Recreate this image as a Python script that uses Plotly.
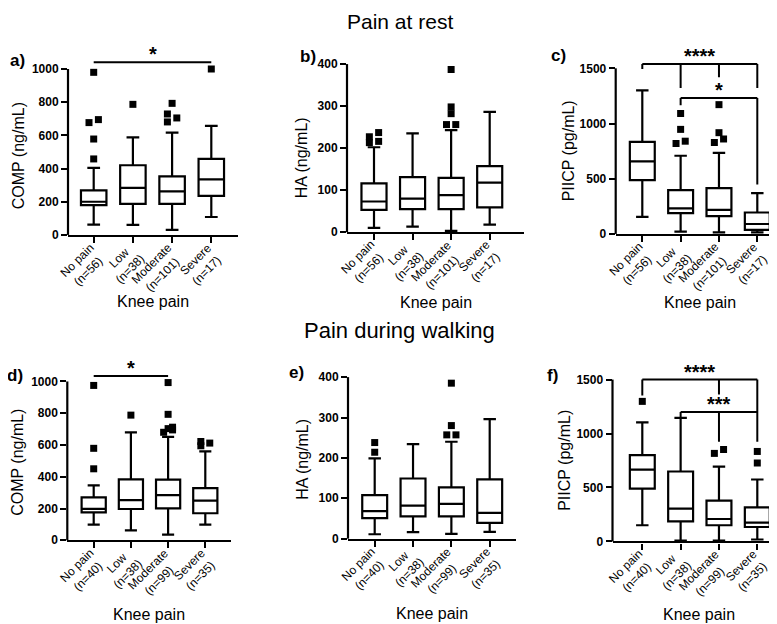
import plotly.graph_objects as go

W, H = 777, 624

CATS_REST = ["No pain<br>(n=56)", "Low<br>(n=38)", "Moderate<br>(n=101)", "Severe<br>(n=17)"]
CATS_WALK = ["No pain<br>(n=40)", "Low<br>(n=38)", "Moderate<br>(n=99)", "Severe<br>(n=35)"]

# a) COMP, pain at rest
COMP_REST_LO = [62, 60, 30, 108]
COMP_REST_Q1 = [180, 187, 187, 235]
COMP_REST_MED = [200, 283, 263, 335]
COMP_REST_Q3 = [269, 420, 353, 458]
COMP_REST_HI = [404, 588, 616, 657]
COMP_REST_OUT = [[980, 677, 695, 578, 458], [787], [793, 729, 681, 705], [1000]]

# b) HA, pain at rest
HA_REST_LO = [10, 13, 3, 18]
HA_REST_Q1 = [53, 55, 55, 59]
HA_REST_MED = [73, 80, 88, 118]
HA_REST_Q3 = [116, 131, 129, 157]
HA_REST_HI = [202, 235, 243, 286]
HA_REST_OUT = [[227, 213, 237, 216], [], [387, 298, 282, 256, 256], []]

# c) PIICP, pain at rest
PIICP_REST_LO = [155, 21, 15, 15]
PIICP_REST_Q1 = [487, 188, 161, 36]
PIICP_REST_MED = [657, 232, 218, 90]
PIICP_REST_Q3 = [834, 397, 415, 194]
PIICP_REST_HI = [1300, 708, 735, 370]
PIICP_REST_OUT = [[], [1091, 947, 819, 840], [1171, 917, 828, 860], []]

# d) COMP, pain during walking
COMP_WALK_LO = [98, 62, 35, 98]
COMP_WALK_Q1 = [176, 197, 201, 170]
COMP_WALK_MED = [198, 253, 284, 249]
COMP_WALK_Q3 = [270, 384, 382, 328]
COMP_WALK_HI = [346, 680, 651, 560]
COMP_WALK_OUT = [[975, 579, 450], [788], [993, 793, 680, 703, 712, 695], [622, 595, 612]]

# e) HA, pain during walking
HA_WALK_LO = [11, 16, 12, 17]
HA_WALK_Q1 = [51, 55, 55, 39]
HA_WALK_MED = [68, 82, 86, 64]
HA_WALK_Q3 = [108, 149, 127, 147]
HA_WALK_HI = [199, 234, 240, 296]
HA_WALK_OUT = [[238, 214], [], [385, 280, 257, 257], []]

# f) PIICP, pain during walking
PIICP_WALK_LO = [150, 9, 9, 18]
PIICP_WALK_Q1 = [489, 186, 150, 134]
PIICP_WALK_MED = [666, 305, 208, 175]
PIICP_WALK_Q3 = [800, 648, 379, 315]
PIICP_WALK_HI = [1103, 1146, 693, 574]
PIICP_WALK_OUT = [[1298], [], [816, 852], [834, 727]]

# significance brackets: (from, to), bar level, drops (group, end value), label
SIG_A = [((0, 3), 1040, [], "*")]
SIG_C = [((0, 3), 1539, [(0, 1494), (1, 1321), (2, 1420), (3, 1321)], "****"),
         ((1, 3), 1231, [(1, 1166), (3, 448)], "*")]
SIG_D = [((0, 2), 1034, [], "*")]
SIG_F = [((0, 3), 1500, [(0, 1353), (2, 1362), (3, 925)], "****"),
         ((1, 3), 1200, [(1, 1139), (2, 925)], "***")]

FONT = "Liberation Sans, Arial, sans-serif"

# side-by-side placement of outliers that would overlap (-1 left, +1 right)
DODGE_STEP = 0.12
panels = [
    dict(letter="a)", ytitle="COMP (ng/mL)", cats=CATS_REST,
         lo=COMP_REST_LO, q1=COMP_REST_Q1, med=COMP_REST_MED, q3=COMP_REST_Q3, hi=COMP_REST_HI,
         out=COMP_REST_OUT, dodge=[[0, -1, 1, 0, 0], [0], [0, -1, -1, 1], [0]], sig=SIG_A,
         left=60, right=230, cat0=85.7, cat3=203.3, y0=229.5, ytop=61.7, top=1000, step=200,
         domtop=38, letter_px=(9, 53), ytitle_px=(10, 150), xtitle_y=297),
    dict(letter="b)", ytitle="HA (ng/mL)", cats=CATS_REST,
         lo=HA_REST_LO, q1=HA_REST_Q1, med=HA_REST_MED, q3=HA_REST_Q3, hi=HA_REST_HI,
         out=HA_REST_OUT, dodge=[[-1, -1, 1, 1], [], [0, 0, 0, -1, 1], []], sig=[],
         left=339, right=516, cat0=366, cat3=481.7, y0=226.7, ytop=56.7, top=400, step=100,
         domtop=38, letter_px=(300, 49), ytitle_px=(293, 152), xtitle_y=298),
    dict(letter="c)", ytitle="PIICP (pg/mL)", cats=CATS_REST,
         lo=PIICP_REST_LO, q1=PIICP_REST_Q1, med=PIICP_REST_MED, q3=PIICP_REST_Q3, hi=PIICP_REST_HI,
         out=PIICP_REST_OUT, dodge=[[], [0, 0, -1, 1], [0, 0, -1, 1], []], sig=SIG_C,
         left=607.7, right=777, cat0=634.3, cat3=749.3, y0=228.5, ytop=61, top=1500, step=500,
         domtop=38, letter_px=(550, 48), ytitle_px=(560, 145), xtitle_y=298),
    dict(letter="d)", ytitle="COMP (ng/mL)", cats=CATS_WALK,
         lo=COMP_WALK_LO, q1=COMP_WALK_Q1, med=COMP_WALK_MED, q3=COMP_WALK_Q3, hi=COMP_WALK_HI,
         out=COMP_WALK_OUT, dodge=[[0, 0, 0], [0], [0, 0, -1, 0, 1, 1], [-1, -1, 1]], sig=SIG_D,
         left=59.3, right=223, cat0=85.7, cat3=197.3, y0=538.3, ytop=377.7, top=1000, step=200,
         domtop=352, letter_px=(7, 372), ytitle_px=(10, 460), xtitle_y=613),
    dict(letter="e)", ytitle="HA (ng/mL)", cats=CATS_WALK,
         lo=HA_WALK_LO, q1=HA_WALK_Q1, med=HA_WALK_MED, q3=HA_WALK_Q3, hi=HA_WALK_HI,
         out=HA_WALK_OUT, dodge=[[0, 0], [], [0, 0, -1, 1], []], sig=[],
         left=340, right=508, cat0=366.7, cat3=481.7, y0=536.7, ytop=373.3, top=400, step=100,
         domtop=352, letter_px=(288, 369), ytitle_px=(295, 457), xtitle_y=612),
    dict(letter="f)", ytitle="PIICP (pg/mL)", cats=CATS_WALK,
         lo=PIICP_WALK_LO, q1=PIICP_WALK_Q1, med=PIICP_WALK_MED, q3=PIICP_WALK_Q3, hi=PIICP_WALK_HI,
         out=PIICP_WALK_OUT, dodge=[[0], [], [-1, 1], [0, 0]], sig=SIG_F,
         left=604.5, right=777, cat0=634.3, cat3=749.3, y0=539.5, ytop=375.8, top=1500, step=500,
         domtop=352, letter_px=(544, 372), ytitle_px=(557, 458), xtitle_y=613),
]

fig = go.Figure()
layout = {}
shapes = []
annotations = []

for i, p in enumerate(panels):
    n = "" if i == 0 else str(i + 1)
    xa, ya = "x" + n, "y" + n
    idx = list(range(len(p["cats"])))

    fig.add_trace(go.Box(
        x=idx, q1=p["q1"], median=p["med"], q3=p["q3"],
        lowerfence=p["lo"], upperfence=p["hi"],
        boxpoints=False, width=0.65, whiskerwidth=0.5,
        fillcolor="white", line=dict(color="black", width=2.2),
        xaxis=xa, yaxis=ya, showlegend=False,
    ))

    ox, oy = [], []
    for k, vals in enumerate(p["out"]):
        for v, d in zip(vals, p["dodge"][k]):
            ox.append(k + d * DODGE_STEP)
            oy.append(v)
    fig.add_trace(go.Scatter(
        x=ox, y=oy, mode="markers",
        marker=dict(symbol="square", size=7, color="black"),
        xaxis=xa, yaxis=ya, showlegend=False, cliponaxis=False,
    ))

    sp = (p["cat3"] - p["cat0"]) / 3
    upp = p["top"] / (p["y0"] - p["ytop"])
    layout["xaxis" + n] = dict(
        domain=[p["left"] / W, p["right"] / W], anchor=ya,
        range=[(p["left"] - p["cat0"]) / sp, (p["right"] - p["cat0"]) / sp],
        tickvals=idx, showticklabels=False,
        ticks="outside", ticklen=6, tickwidth=2, tickcolor="black",
        showline=True, linewidth=2.2, linecolor="black",
        showgrid=False, zeroline=False, fixedrange=True,
    )
    layout["yaxis" + n] = dict(
        domain=[1 - p["y0"] / H, 1 - p["domtop"] / H], anchor=xa,
        range=[0, p["top"] + (p["ytop"] - p["domtop"]) * upp],
        tickvals=list(range(0, p["top"] + 1, p["step"])),
        tickfont=dict(size=12, color="black", family=FONT, weight="bold"),
        ticks="outside", ticklen=6, tickwidth=2, tickcolor="black",
        showline=False, showgrid=False, zeroline=False, fixedrange=True,
    )

    # slanted category labels, lines centred on each other
    for k, cat in enumerate(p["cats"]):
        annotations.append(dict(xref=xa, yref=ya, x=k, y=0, text=cat, textangle=-45,
                                showarrow=False, xanchor="right", yanchor="top",
                                xshift=17, yshift=-3, align="center",
                                font=dict(size=12, color="black", family=FONT)))

    # y axis line only up to the last tick
    shapes.append(dict(type="line", xref="paper", yref="paper",
                       x0=p["left"] / W, x1=p["left"] / W,
                       y0=1 - p["y0"] / H, y1=1 - p["ytop"] / H,
                       line=dict(color="black", width=2.2)))

    for (g0, g1), lvl, drops, label in p["sig"]:
        shapes.append(dict(type="line", xref=xa, yref=ya, x0=g0, x1=g1, y0=lvl, y1=lvl,
                           line=dict(color="black", width=2)))
        for g, end in drops:
            shapes.append(dict(type="line", xref=xa, yref=ya, x0=g, x1=g, y0=lvl, y1=end,
                               line=dict(color="black", width=2)))
        annotations.append(dict(xref=xa, yref=ya, x=(g0 + g1) / 2, y=lvl, text="<b>%s</b>" % label,
                                showarrow=False, yanchor="bottom", yshift=-5,
                                font=dict(size=20, color="black", family=FONT)))

    annotations.append(dict(xref="paper", yref="paper", x=p["letter_px"][0] / W,
                            y=1 - p["letter_px"][1] / H, text="<b>%s</b>" % p["letter"],
                            showarrow=False, xanchor="center", yanchor="middle",
                            font=dict(size=17, color="black", family=FONT)))
    annotations.append(dict(xref="paper", yref="paper", x=p["ytitle_px"][0] / W,
                            y=1 - p["ytitle_px"][1] / H, text=p["ytitle"], textangle=-90,
                            showarrow=False, xanchor="center", yanchor="middle",
                            font=dict(size=16, color="black", family=FONT)))
    annotations.append(dict(xref="paper", yref="paper", x=(p["left"] + p["right"]) / 2 / W,
                            y=1 - p["xtitle_y"] / H, text="Knee pain",
                            showarrow=False, xanchor="center", yanchor="middle",
                            font=dict(size=16, color="black", family=FONT)))

annotations.append(dict(xref="paper", yref="paper", x=392 / W, y=1, text="Pain at rest",
                        showarrow=False, xanchor="center", yanchor="top",
                        font=dict(size=21, color="black", family=FONT)))
annotations.append(dict(xref="paper", yref="paper", x=392 / W, y=1 - 326 / H,
                        text="Pain during walking", showarrow=False,
                        xanchor="center", yanchor="middle",
                        font=dict(size=22, color="black", family=FONT)))

fig.update_layout(
    width=W, height=H,
    margin=dict(l=0, r=0, t=0, b=0),
    paper_bgcolor="white", plot_bgcolor="white",
    font=dict(family=FONT, color="black"),
    shapes=shapes, annotations=annotations,
    **layout,
)

fig.write_html("out.html")
